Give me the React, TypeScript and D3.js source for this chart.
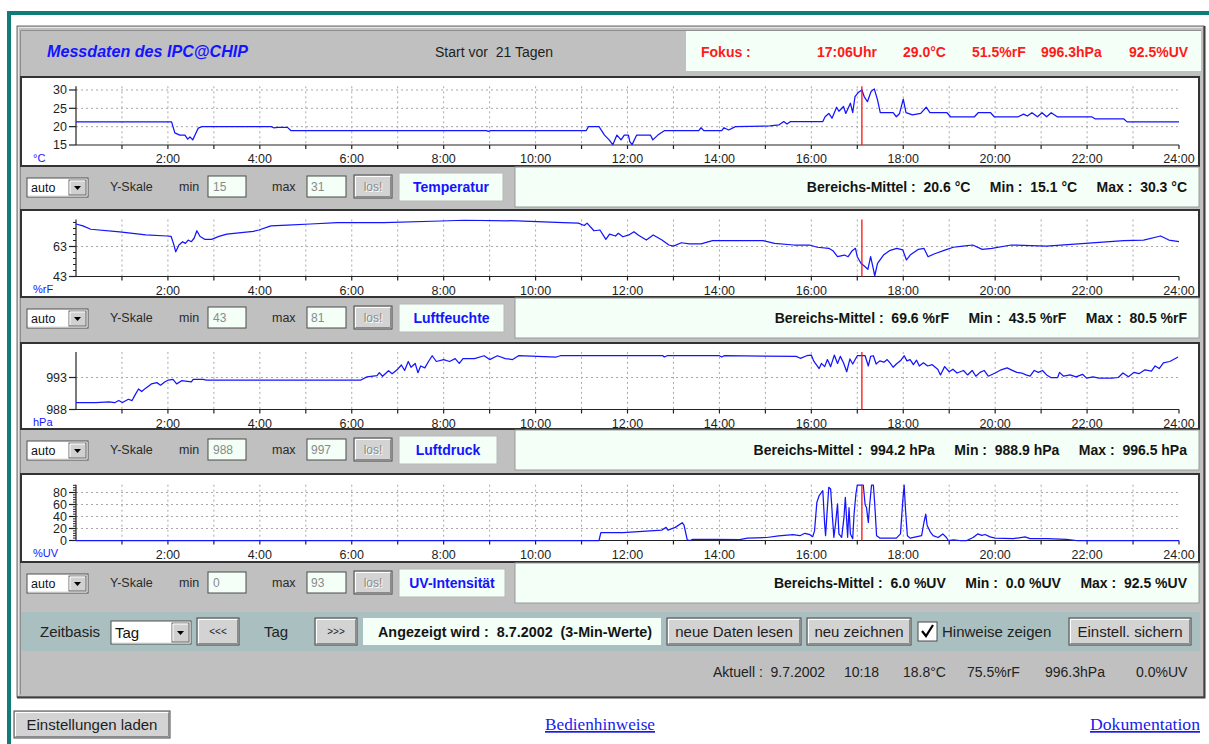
import React from "react";
import * as d3 from "d3";

// ---------------- data ----------------
const xLabelHours = [2, 4, 6, 8, 10, 12, 14, 16, 18, 20, 22, 24];
const xLabels = ["2:00", "4:00", "6:00", "8:00", "10:00", "12:00", "14:00", "16:00", "18:00", "20:00", "22:00", "24:00"];
const focusHour = 17.1;

const tempHours = [0, 2.08, 2.15, 2.26, 2.37, 2.43, 2.48, 2.54, 2.59, 2.66, 2.74, 4.25, 4.3, 4.4, 4.6, 4.68, 8.93, 8.97, 9.02, 11.1, 11.15, 11.38, 11.5, 11.6, 11.68, 11.77, 11.86, 11.93, 12.02, 12.05, 12.1, 12.2, 12.5, 12.55, 12.66, 12.8, 13.55, 13.6, 13.66, 14.05, 14.1, 14.2, 14.35, 15.1, 15.3, 15.4, 15.47, 15.55, 16.25, 16.3, 16.38, 16.45, 16.55, 16.6, 16.7, 16.75, 16.85, 16.9, 16.95, 17.02, 17.1, 17.15, 17.22, 17.3, 17.37, 17.44, 17.5, 17.78, 17.85, 17.92, 18.0, 18.06, 18.2, 18.38, 18.5, 18.58, 18.95, 19.03, 19.55, 19.63, 19.9, 19.98, 20.5, 20.62, 20.7, 20.8, 20.92, 21.02, 21.12, 21.22, 21.35, 22.1, 22.18, 22.8, 22.87, 24];
const tempValues = [21.3, 21.3, 18.3, 17.7, 17.7, 16.6, 17.2, 16.4, 17.7, 19.6, 20.0, 20.0, 19.7, 19.8, 19.8, 18.9, 18.9, 18.7, 18.9, 18.9, 20.0, 20.0, 17.7, 16.4, 15.1, 17.7, 16.4, 17.7, 17.7, 15.9, 15.1, 17.7, 17.7, 16.4, 17.7, 18.9, 18.9, 19.7, 18.9, 18.9, 19.7, 19.1, 20.0, 20.2, 20.5, 21.4, 20.7, 21.4, 21.4, 22.7, 23.6, 22.3, 25.3, 24.2, 25.5, 23.6, 26.4, 23.8, 28.2, 29.3, 30.0, 28.2, 26.8, 29.6, 30.3, 27.3, 23.8, 23.8, 22.7, 23.6, 27.5, 23.8, 23.2, 23.6, 25.3, 23.8, 23.8, 22.7, 22.7, 23.8, 23.8, 22.7, 22.7, 23.4, 22.9, 23.8, 22.7, 23.8, 22.7, 23.8, 22.7, 22.7, 22.1, 22.1, 21.3, 21.3];

const humHours = [0, 0.15, 0.32, 0.95, 1.52, 1.98, 2.07, 2.12, 2.17, 2.24, 2.32, 2.38, 2.44, 2.51, 2.57, 2.63, 2.7, 2.8, 2.95, 3.11, 3.28, 3.86, 3.98, 4.24, 4.6, 5.1, 5.69, 6.7, 7.94, 8.44, 9.6, 10.6, 10.93, 11.06, 11.12, 11.27, 11.4, 11.53, 11.61, 11.74, 11.8, 11.9, 12.03, 12.14, 12.24, 12.41, 12.56, 12.75, 12.9, 13.0, 13.17, 13.35, 13.6, 13.85, 14.95, 15.2, 15.62, 15.96, 16.13, 16.38, 16.47, 16.57, 16.72, 16.8, 16.89, 16.96, 17.0, 17.08, 17.17, 17.23, 17.29, 17.33, 17.38, 17.44, 17.57, 17.7, 17.86, 17.99, 18.07, 18.15, 18.33, 18.45, 18.54, 18.67, 18.92, 19.09, 19.3, 19.51, 19.72, 19.93, 20.35, 21.12, 21.96, 22.8, 23.23, 23.6, 23.78, 24];
const humValues = [78, 76.7, 74.5, 72.7, 70.7, 70, 69.7, 65.1, 59.5, 64, 66.2, 65.1, 67.3, 66.2, 68.5, 73.5, 69.7, 67.8, 67.8, 69.7, 71.3, 73.1, 74, 76.7, 77.3, 78, 78.9, 78.9, 80, 80.5, 80.1, 78.9, 78.6, 77, 78.6, 73.5, 74, 67.8, 71.3, 70, 71.8, 69.5, 70.7, 72.9, 70.5, 67.3, 70.7, 67.3, 64, 63.3, 65.5, 64.7, 64.7, 66.9, 66.9, 65.1, 64, 64, 62.5, 61.8, 60.2, 56.2, 57.3, 56.2, 60.2, 61.8, 56.2, 51.8, 49.5, 47.8, 56.2, 50.7, 43.5, 51.8, 57.3, 60.2, 61.8, 60.7, 54, 57.3, 61.1, 61.8, 56.2, 58, 60.7, 62.5, 63.3, 64, 61.1, 61.8, 64, 63.3, 65.1, 66.9, 67.3, 70, 67.3, 66.2];

const presHours = [0, 0.43, 0.72, 0.84, 0.93, 1.01, 1.14, 1.22, 1.28, 1.36, 1.43, 1.51, 1.64, 1.76, 1.84, 1.93, 2.01, 2.11, 2.19, 2.3, 2.51, 2.55, 2.76, 2.84, 6.2, 6.33, 6.55, 6.6, 6.67, 6.8, 6.88, 7.0, 7.08, 7.15, 7.23, 7.29, 7.38, 7.44, 7.5, 7.59, 7.67, 7.75, 7.84, 8.0, 8.13, 8.25, 8.34, 8.42, 8.67, 8.88, 9.0, 9.17, 9.34, 9.5, 9.63, 10.45, 10.54, 12.77, 12.8, 12.86, 14.0, 14.05, 14.1, 15.67, 15.76, 15.9, 16.0, 16.05, 16.17, 16.22, 16.29, 16.35, 16.42, 16.5, 16.57, 16.63, 16.7, 16.77, 16.84, 16.9, 17.0, 17.17, 17.24, 17.29, 17.35, 17.41, 17.49, 17.58, 17.65, 17.72, 17.78, 17.85, 17.95, 18.02, 18.08, 18.15, 18.22, 18.29, 18.35, 18.44, 18.53, 18.63, 18.75, 18.81, 18.9, 19.0, 19.08, 19.17, 19.31, 19.4, 19.5, 19.58, 19.67, 19.76, 19.85, 20.0, 20.13, 20.26, 20.35, 20.47, 20.58, 20.67, 20.76, 20.85, 20.94, 21.03, 21.12, 21.21, 21.36, 21.4, 21.49, 21.63, 21.76, 21.9, 21.99, 22.13, 22.26, 22.54, 22.68, 22.78, 22.9, 23.02, 23.13, 23.26, 23.4, 23.48, 23.57, 23.66, 23.8, 23.98];
const presValues = [989.06, 989.06, 989.2, 989.06, 989.4, 989.1, 989.6, 989.4, 990.2, 991.2, 990.8, 991.3, 992, 992.2, 991.8, 992.3, 992.6, 992.7, 992, 992.5, 992.3, 992.7, 992.7, 992.6, 992.6, 993.1, 993.3, 993.75, 993.2, 994.06, 993.6, 994.3, 994.95, 994.1, 995.5, 994.6, 995.2, 993.75, 994.8, 994.5, 995.5, 996.4, 995.5, 995.8, 995.5, 995.95, 995.2, 995.95, 995.95, 996.4, 995.8, 996.4, 995.95, 995.8, 996.4, 996.2, 996.4, 996.4, 996.2, 996.4, 996.4, 996.2, 996.4, 996.3, 996.0, 996.4, 996.5, 995.6, 994.4, 995.2, 994.7, 995.8, 994.7, 996.5, 995.2, 996.3, 995.3, 993.9, 995.9, 995.1, 996.4, 996.4, 994.8, 996.3, 996.4, 995.1, 995.6, 995.4, 995.8, 995.2, 994.6, 995.1, 995.7, 996.4, 995.6, 995.8, 995.0, 995.7, 994.8, 995.3, 994.8, 995.0, 994.3, 993.4, 994.7, 993.9, 994.3, 993.7, 994.1, 993.4, 994.1, 993.2, 993.8, 994.1, 993.2, 993.7, 994.2, 994.5, 994.2, 993.8, 993.7, 993.4, 993.2, 994.1, 993.8, 994.1, 993.4, 993.0, 993.0, 993.8, 993.2, 993.4, 993.1, 993.5, 992.9, 993.1, 992.9, 992.9, 993.0, 993.7, 993.1, 993.8, 993.6, 994.2, 994.0, 994.8, 994.4, 995.3, 995.5, 996.2];

const uvHours = [0, 11.38, 11.42, 11.9, 12.24, 12.75, 12.84, 12.88, 13.04, 13.19, 13.23, 13.3, 13.36, 13.42, 13.93, 14.44, 14.61, 15.03, 15.29, 15.6, 15.75, 15.86, 15.97, 16.03, 16.07, 16.12, 16.17, 16.22, 16.25, 16.29, 16.31, 16.34, 16.38, 16.42, 16.46, 16.49, 16.53, 16.57, 16.6, 16.66, 16.71, 16.74, 16.79, 16.82, 16.85, 16.9, 16.93, 16.97, 17.0, 17.13, 17.17, 17.2, 17.24, 17.27, 17.31, 17.35, 17.38, 17.42, 17.49, 17.85, 17.94, 17.99, 18.02, 18.05, 18.09, 18.15, 18.4, 18.45, 18.49, 18.52, 18.59, 18.65, 18.76, 18.86, 18.94, 18.98, 19.09, 19.23, 19.38, 19.52, 19.62, 19.71, 19.78, 19.89, 20.0, 20.39, 20.65, 20.76, 21.12, 21.55, 21.77, 24];
const uvValues = [0, 0, 13, 13, 14.6, 17.4, 21.9, 17.4, 21.9, 29.7, 25.8, 1, 0, 2, 2, 1.5, 3.9, 5, 7.8, 9.7, 8, 12, 9.7, 6.4, 16, 63.6, 74.7, 80, 83, 27.5, 8, 44, 88.6, 86, 38.6, 5.3, 30, 61, 11, 5.3, 38.6, 72, 5.3, 54.7, 11, 3, 44, 77.5, 92.5, 92.5, 60, 54.7, 30, 60, 92.5, 92.5, 60, 8, 4, 4, 11, 66, 92.5, 50, 8, 4, 8, 30, 44, 25, 14, 8, 5, 11, 5, 0, 1, 0, 0, 5, 11, 8.5, 10, 6, 4, 3, 6, 3, 3, 2, 0, 0];

const seriesNames = ["Temperatur", "Luftfeuchte", "Luftdruck", "UV-Intensität"];
const units = ["°C", "%rF", "hPa", "%UV"];
const scaleMin = [15, 43, 988, 0];
const scaleMax = [31, 81, 997, 93];
const yTickValues = [[15, 20, 25, 30], [43, 63], [988, 993], [0, 20, 40, 60, 80]];
const minorSteps = [0, 4, 0, 4];
const statMean = ["20.6", "69.6", "994.2", "6.0"];
const statMin = ["15.1", "43.5", "988.9", "0.0"];
const statMax = ["30.3", "80.5", "996.5", "92.5"];

const fokusTexts = ["Fokus :", "17:06Uhr", "29.0°C", "51.5%rF", "996.3hPa", "92.5%UV"];
const aktuellTexts = ["Aktuell :  9.7.2002", "10:18", "18.8°C", "75.5%rF", "996.3hPa", "0.0%UV"];

// ---------------- layout ----------------
const FONT = '"Liberation Sans", Arial, Helvetica, sans-serif';
const MINT = "#f3fff7";
const GRAY = "#c0c0c0";
const BLUE = "#1414ff";
const X0 = 76;
const X1 = 1179;

const chartLayout = [
  { boxTop: 77, boxBottom: 166, axisY: 145, topY: 86.3 },
  { boxTop: 210, boxBottom: 297, axisY: 276.5, topY: 219.5 },
  { boxTop: 343, boxBottom: 429, axisY: 409.5, topY: 351.9 },
  { boxTop: 474, boxBottom: 562, axisY: 540.5, topY: 484.7 },
];
const rowTops = [167, 298, 430, 563];
const labelWidths = [104, 105, 98, 106];
const fokusX = [701, 817, 903, 972, 1041, 1129];
const aktuellX = [713, 844, 903, 967, 1045, 1136];

const seriesData = [
  { h: tempHours, v: tempValues },
  { h: humHours, v: humValues },
  { h: presHours, v: presValues },
  { h: uvHours, v: uvValues },
];

function Btn({ x, y, w, h, label, size = 15, color = "#1e1e1e", shadow = false }: any) {
  return (
    <g>
      <rect x={x} y={y} width={w} height={h} fill="#d3d3d3" stroke="#474747" strokeWidth={1} />
      <path d={`M${x + 1.5},${y + h - 1.5}V${y + 1.5}H${x + w - 1.5}`} stroke="#ffffff" fill="none" />
      <path d={`M${x + 1.5},${y + h - 1.5}H${x + w - 1.5}V${y + 1.5}`} stroke="#8a8a8a" fill="none" />
      {shadow && (
        <text x={x + w / 2 + 1} y={y + h / 2 + size * 0.36 + 1} textAnchor="middle" fontSize={size} fill="#fff">
          {label}
        </text>
      )}
      <text x={x + w / 2} y={y + h / 2 + size * 0.36} textAnchor="middle" fontSize={size} fill={color}>
        {label}
      </text>
    </g>
  );
}

function Select({ x, y, w, h, label, size }: any) {
  const bw = 17;
  const bx = x + w - bw - 2;
  const cx = bx + bw / 2;
  const cy = y + h / 2;
  return (
    <g>
      <rect x={x} y={y} width={w} height={h} fill="#ffffff" stroke="#505050" />
      <path d={`M${x + 1},${y + h - 1}H${x + w - 1}V${y + 1}`} stroke="#d8d8d8" fill="none" />
      <rect x={bx} y={y + 2} width={bw} height={h - 4} fill="#d0d0d0" stroke="#6a6a6a" />
      <path d={`M${bx + 1},${y + h - 3}V${y + 3}H${bx + bw - 1}`} stroke="#fff" fill="none" />
      <path d={`M${cx - 3.5},${cy - 1.5}L${cx + 3.5},${cy - 1.5}L${cx},${cy + 2.5}Z`} fill="#000" />
      <text x={x + 4} y={y + h / 2 + size * 0.38} fontSize={size} fill="#111">
        {label}
      </text>
    </g>
  );
}

function Chart({ idx }: { idx: number }) {
  const L = chartLayout[idx];
  const x = d3.scaleLinear().domain([0, 24]).range([X0, X1]);
  const y = d3.scaleLinear().domain([scaleMin[idx], scaleMax[idx]]).range([L.axisY, L.topY]);
  const { h, v } = seriesData[idx];
  const pts: [number, number][] = h.map((hh, i) => [hh, v[i]]);
  const line = d3
    .line<[number, number]>()
    .x((d) => x(d[0]))
    .y((d) => y(d[1]));
  const ticks = yTickValues[idx];
  const minor = minorSteps[idx] ? d3.range(scaleMin[idx], scaleMax[idx], minorSteps[idx]) : [];
  const hourTicks = d3.range(1, 25);
  return (
    <g>
      <rect x={21} y={L.boxTop} width={1178} height={L.boxBottom - L.boxTop} fill="#fff" stroke="#333" strokeWidth={2} />
      {/* grid */}
      {d3.range(1, 24).map((hh) => (
        <line key={"vg" + hh} x1={x(hh)} x2={x(hh)} y1={y(scaleMax[idx])} y2={L.axisY} stroke="#a8a8a8" strokeDasharray="2,3" strokeWidth={1} />
      ))}
      {ticks
        .filter((t) => t !== scaleMin[idx])
        .map((t) => (
          <line key={"hg" + t} x1={X0} x2={X1} y1={y(t)} y2={y(t)} stroke="#a8a8a8" strokeDasharray="2,3" strokeWidth={1} />
        ))}
      {/* axes */}
      <line x1={X0} x2={X0} y1={y(scaleMax[idx])} y2={L.axisY} stroke="#222" strokeWidth={1.2} />
      <line x1={X0} x2={X1} y1={L.axisY} y2={L.axisY} stroke="#222" strokeWidth={1.2} />
      {hourTicks.map((hh) => (
        <line key={"xt" + hh} x1={x(hh)} x2={x(hh)} y1={L.axisY} y2={L.axisY + 4} stroke="#222" strokeWidth={1.2} />
      ))}
      {minor.map((t) => (
        <line key={"mt" + t} x1={X0 - 3} x2={X0} y1={y(t)} y2={y(t)} stroke="#222" strokeWidth={1} />
      ))}
      {ticks.map((t) => (
        <g key={"yt" + t}>
          <line x1={X0 - 7} x2={X0} y1={y(t)} y2={y(t)} stroke="#222" strokeWidth={1.2} />
          <text x={X0 - 9} y={y(t) + 4.3} textAnchor="end" fontSize={12.5} fill="#1e1e1e">
            {t}
          </text>
        </g>
      ))}
      {xLabelHours.map((hh, i) => (
        <text key={"xl" + hh} x={x(hh)} y={L.axisY + 18} textAnchor="middle" fontSize={12.5} fill="#1e1e1e">
          {xLabels[i]}
        </text>
      ))}
      <text x={33} y={L.axisY + 16.5} fontSize={11} fill={BLUE}>
        {units[idx]}
      </text>
      {/* series */}
      <path d={line(pts) || ""} fill="none" stroke={BLUE} strokeWidth={1.25} strokeLinejoin="round" />
      <line x1={x(focusHour)} x2={x(focusHour)} y1={y(scaleMax[idx])} y2={L.axisY} stroke="#ff1010" strokeWidth={1.3} />
    </g>
  );
}

function ControlRow({ idx }: { idx: number }) {
  const T = rowTops[idx];
  const lw = labelWidths[idx];
  const statText = `Bereichs-Mittel :  ${statMean[idx]} ${units[idx]}     Min :  ${statMin[idx]} ${units[idx]}     Max :  ${statMax[idx]} ${units[idx]}`;
  return (
    <g>
      <rect x={515} y={T} width={684} height={40} fill={MINT} stroke="#9a9a9a" strokeWidth={1} />
      <Select x={27} y={T + 11} w={61} h={19} label="auto" size={12.5} />
      <text x={110} y={T + 24} fontSize={12.5} fill="#2a2a2a">Y-Skale</text>
      <text x={179} y={T + 24} fontSize={12.5} fill="#2a2a2a">min</text>
      <rect x={208} y={T + 9} width={38} height={21} fill={MINT} stroke="#4a4a4a" />
      <text x={213} y={T + 24} fontSize={12} fill="#8a8a8a">{scaleMin[idx]}</text>
      <text x={272} y={T + 24} fontSize={12.5} fill="#2a2a2a">max</text>
      <rect x={307} y={T + 9} width={39} height={21} fill={MINT} stroke="#4a4a4a" />
      <text x={311} y={T + 24} fontSize={12} fill="#8a8a8a">{scaleMax[idx]}</text>
      <Btn x={354} y={T + 8} w={38} h={23} label="los!" size={12} color="#8c8c8c" shadow />
      <rect x={399} y={T + 6} width={lw} height={28} fill={MINT} stroke="#b8b8b8" />
      <text x={399 + lw / 2} y={T + 25} textAnchor="middle" fontSize={14} fontWeight="bold" fill={BLUE}>
        {seriesNames[idx]}
      </text>
      <text x={1187} y={T + 25} textAnchor="end" fontSize={14} fontWeight="bold" fill="#141414" xmlSpace="preserve" style={{ whiteSpace: "pre" }}>
        {statText}
      </text>
    </g>
  );
}

export default function App() {
  return (
    <div style={{ position: "absolute", left: 0, top: 0 }}>
      <svg width={1209} height={744} style={{ display: "block", fontFamily: FONT }}>
        <rect x={0} y={0} width={1209} height={744} fill="#ffffff" />
        {/* teal frame */}
        <rect x={7} y={11} width={1202} height={4} fill="#0e7c79" />
        <rect x={7} y={11} width={4} height={733} fill="#0e7c79" />
        {/* panel */}
        <rect x={17} y={26} width={1187} height={671} fill={GRAY} stroke="#6c6c6c" strokeWidth={1} />
        <path d="M18.5,695.5V27.5H1202.5" stroke="#e6e6e6" fill="none" />
        <path d="M17,697.5H1204.5V26" stroke="#3e3e3e" strokeWidth={2} fill="none" />
        <path d="M20.5,694.5V30.5H1201" stroke="#8e8e8e" fill="none" />
        {/* header */}
        <text x={47} y={57} fontSize={17} fontWeight="bold" fontStyle="italic" fill={BLUE} textLength={201} lengthAdjust="spacingAndGlyphs">
          Messdaten des IPC@CHIP
        </text>
        <text x={435} y={57} fontSize={14} fill="#1e1e1e" xmlSpace="preserve" style={{ whiteSpace: "pre" }}>
          Start vor  21 Tagen
        </text>
        <rect x={686} y={31} width={515} height={40} fill={MINT} />
        {fokusTexts.map((t, i) => (
          <text key={"fk" + i} x={fokusX[i]} y={57} fontSize={14} fontWeight="bold" fill="#ff1a1a">
            {t}
          </text>
        ))}
        {/* charts and rows */}
        {[0, 1, 2, 3].map((i) => (
          <Chart key={"c" + i} idx={i} />
        ))}
        {[0, 1, 2, 3].map((i) => (
          <ControlRow key={"r" + i} idx={i} />
        ))}
        {/* Zeitbasis band */}
        <rect x={21} y={612} width={1179} height={39} fill="#a9bfc0" />
        <text x={40} y={637} fontSize={15} fill="#222">Zeitbasis</text>
        <Select x={111} y={621} w={80} h={23} label="Tag" size={15} />
        <Btn x={197} y={618} w={42} h={27} label="<<<" size={10} />
        <text x={264} y={637} fontSize={15} fill="#222">Tag</text>
        <Btn x={315} y={618} w={42} h={27} label=">>>" size={10} />
        <rect x={363} y={618} width={298} height={27} fill={MINT} />
        <text x={378} y={637} fontSize={14} fontWeight="bold" fill="#141414" textLength={274} lengthAdjust="spacingAndGlyphs" xmlSpace="preserve" style={{ whiteSpace: "pre" }}>
          Angezeigt wird :  8.7.2002  (3-Min-Werte)
        </text>
        <Btn x={667} y={618} w={134} h={27} label="neue Daten lesen" size={15} />
        <Btn x={807} y={618} w={104} h={27} label="neu zeichnen" size={15} />
        <rect x={918} y={622} width={19} height={19} fill="#ffffff" stroke="#4a4a4a" />
        <path d="M922,631L926,636L933,625" stroke="#000" strokeWidth={2.2} fill="none" />
        <text x={942} y={637} fontSize={15} fill="#222">Hinweise zeigen</text>
        <Btn x={1069} y={618} w={122} h={27} label="Einstell. sichern" size={15} />
        {/* Aktuell */}
        {aktuellTexts.map((t, i) => (
          <text key={"ak" + i} x={aktuellX[i]} y={677} fontSize={14} fill="#222" xmlSpace="preserve" style={{ whiteSpace: "pre" }}>
            {t}
          </text>
        ))}
        {/* below panel */}
        <Btn x={14} y={711} w={156} h={27} label="Einstellungen laden" size={15} />
        <text x={545} y={730} fontSize={17} fontFamily='"Liberation Serif", "Times New Roman", serif' fill="#1a1aee" textDecoration="underline" textLength={110} lengthAdjust="spacingAndGlyphs">
          Bedienhinweise
        </text>
        <text x={1090} y={730} fontSize={17} fontFamily='"Liberation Serif", "Times New Roman", serif' fill="#1a1aee" textDecoration="underline" textLength={110} lengthAdjust="spacingAndGlyphs">
          Dokumentation
        </text>
      </svg>
    </div>
  );
}
